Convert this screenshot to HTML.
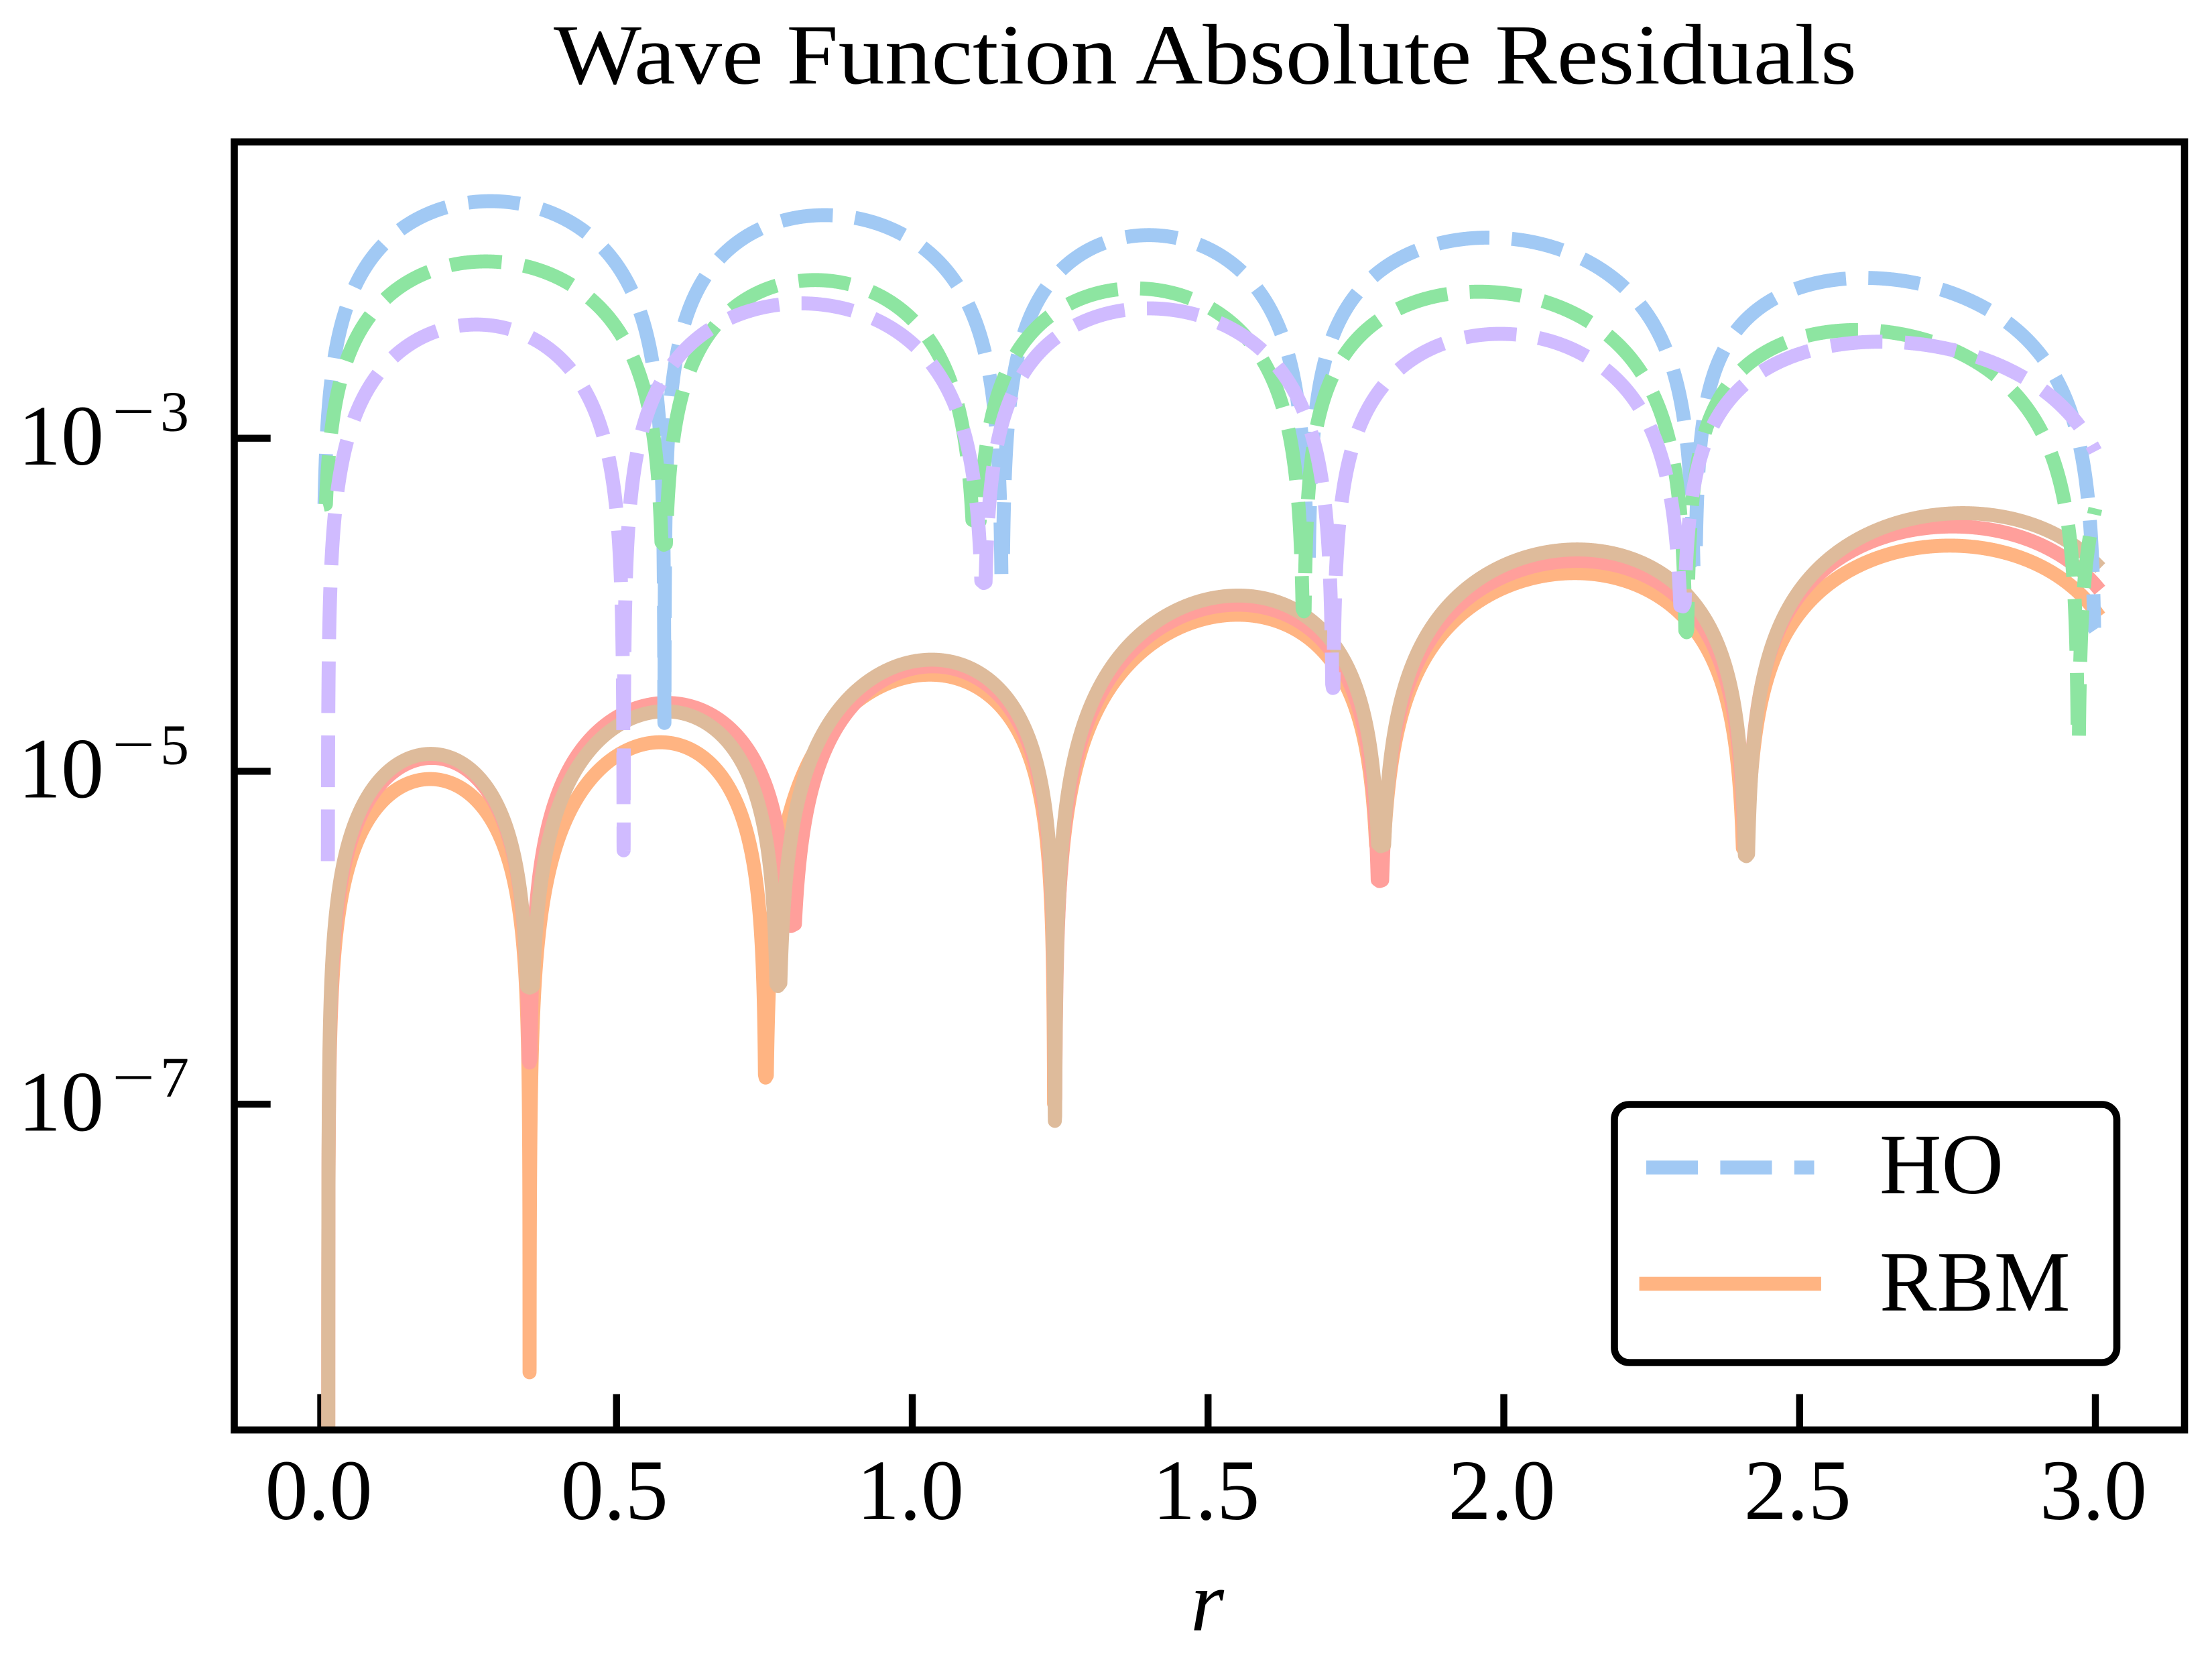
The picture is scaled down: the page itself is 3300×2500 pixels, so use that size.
<!DOCTYPE html>
<html>
<head>
<meta charset="utf-8">
<title>Wave Function Absolute Residuals</title>
<style>
html,body{margin:0;padding:0;background:#ffffff;}
svg{display:block;}
text{font-family:"Liberation Serif","DejaVu Serif",serif;fill:#000;}
</style>
</head>
<body>
<svg id="chart" xmlns="http://www.w3.org/2000/svg" width="3300" height="2500" viewBox="0 0 3300 2500">
  <rect x="0" y="0" width="3300" height="2500" fill="#ffffff"/>
  <defs>
    <clipPath id="axclip"><rect x="349.5" y="211.7" width="2909.5" height="1921.3"/></clipPath>
  </defs>

  <!-- ticks (drawn beneath the lines) -->
  <g stroke="#000" stroke-width="10.4" stroke-linecap="butt">
    <line x1="478.5" y1="2133" x2="478.5" y2="2079.5"/>
    <line x1="919.75" y1="2133" x2="919.75" y2="2079.5"/>
    <line x1="1361" y1="2133" x2="1361" y2="2079.5"/>
    <line x1="1802.25" y1="2133" x2="1802.25" y2="2079.5"/>
    <line x1="2243.5" y1="2133" x2="2243.5" y2="2079.5"/>
    <line x1="2684.75" y1="2133" x2="2684.75" y2="2079.5"/>
    <line x1="3126" y1="2133" x2="3126" y2="2079.5"/>
    <line x1="349.5" y1="653.7" x2="403.7" y2="653.7"/>
    <line x1="349.5" y1="1150.4" x2="403.7" y2="1150.4"/>
    <line x1="349.5" y1="1647.1" x2="403.7" y2="1647.1"/>
  </g>

  <!-- curves -->
  <g id="curves" clip-path="url(#axclip)" fill="none" stroke-linejoin="round"></g>

  <!-- spines -->
  <rect x="349.5" y="211.7" width="2909.5" height="1921.3" fill="none" stroke="#000" stroke-width="10.6" stroke-linejoin="miter"/>

  <!-- title -->
  <text x="826" y="124.5" font-size="128" textLength="1944" lengthAdjust="spacingAndGlyphs">Wave Function Absolute Residuals</text>

  <!-- x tick labels -->
  <g font-size="128" text-anchor="middle">
    <text x="475.5" y="2266">0.0</text>
    <text x="916.75" y="2266">0.5</text>
    <text x="1358" y="2266">1.0</text>
    <text x="1799.25" y="2266">1.5</text>
    <text x="2240.5" y="2266">2.0</text>
    <text x="2681.75" y="2266">2.5</text>
    <text x="3123" y="2266">3.0</text>
  </g>

  <!-- y tick labels -->
  <g>
    <text x="27" y="693" font-size="128">10</text>
    <text x="167" y="642.7" font-size="86" textLength="64" lengthAdjust="spacingAndGlyphs">−</text>
    <text x="239" y="642.7" font-size="86">3</text>

    <text x="27" y="1189.7" font-size="128">10</text>
    <text x="167" y="1139.4" font-size="86" textLength="64" lengthAdjust="spacingAndGlyphs">−</text>
    <text x="239" y="1139.4" font-size="86">5</text>

    <text x="27" y="1686.4" font-size="128">10</text>
    <text x="167" y="1636.1" font-size="86" textLength="64" lengthAdjust="spacingAndGlyphs">−</text>
    <text x="239" y="1636.1" font-size="86">7</text>
  </g>

  <!-- x label -->
  <text x="1801" y="2432" font-size="128" font-style="italic" text-anchor="middle">r</text>

  <!-- legend -->
  <rect x="2408.5" y="1647.5" width="749.5" height="385" rx="22" ry="22" fill="#ffffff" stroke="#000" stroke-width="10.6"/>
  <line x1="2456" y1="1741.5" x2="2706.5" y2="1741.5" stroke="#a1c9f4" stroke-width="20.83" stroke-dasharray="77.08 33.33" stroke-linecap="butt"/>
  <line x1="2456" y1="1915" x2="2706.5" y2="1915" stroke="#ffb482" stroke-width="20.83" stroke-linecap="square"/>
  <text x="2804" y="1780" font-size="128">HO</text>
  <text x="2804" y="1955" font-size="128">RBM</text>
</svg>

<script>
(function(){
  var X = function(r){ return 478.5 + 882.5*r; };
  var Y = function(L){ return 653.7 - (L+3)*248.35; };
  var RMAX = 3.0;

  function build(c){
    var z=c.z, d=c.d, A=c.a;
    var pts=[[z[0], d[0]]];
    var M=900;
    for(var k=0;k<A.length;k++){
      var a=z[k], b=z[k+1], L=b-a;
      var pr=A[k][0], pl=A[k][1];
      var tp=(pr-a)/L;
      var g=Math.log(0.5)/Math.log(tp);
      var done=false;
      for(var i=1;i<M;i++){
        var s=i/M;
        var t=0.5-0.5*Math.cos(Math.PI*s);
        var r=a+t*L;
        if(r>RMAX){
          var tt=(RMAX-a)/L;
          var uu=Math.pow(tt,g);
          var vv=pl+Math.log10(Math.max(Math.sin(Math.PI*uu),1e-12));
          pts.push([RMAX, Math.max(vv, d[k+1])]);
          done=true; break;
        }
        var u=Math.pow(t,g);
        var v=pl+Math.log10(Math.max(Math.sin(Math.PI*u),1e-12));
        var lim = t<0.5 ? d[k] : d[k+1];
        if(v<lim) continue;
        pts.push([r,v]);
      }
      if(done) break;
      if(b<=RMAX){ pts.push([b, d[k+1]]); }
      else {
        var tt2=(RMAX-a)/L, uu2=Math.pow(tt2,g);
        var vv2=pl+Math.log10(Math.max(Math.sin(Math.PI*uu2),1e-12));
        pts.push([RMAX, Math.max(vv2,d[k+1])]);
        break;
      }
      if(b>=RMAX) break;
    }
    var s2='M';
    for(var j=0;j<pts.length;j++){
      if(j>0) s2+='L';
      s2+=X(pts[j][0]).toFixed(2)+','+Y(pts[j][1]).toFixed(2);
    }
    return s2;
  }

  var curves=[
    // RBM (solid)
    {color:'#ffb482', dash:false,
     z:[0.0127,0.353,0.752,1.240,1.790,2.408,3.088],
     d:[-10,-8.61,-6.84,-7.0,-5.45,-5.48,-9],
     a:[[0.185,-5.047],[0.574,-4.826],[1.03,-4.42],[1.55,-4.06],[2.12,-3.81],[2.754,-3.645]]},
    {color:'#ff9f9b', dash:false,
     z:[0.0127,0.353,0.795,1.241,1.790,2.410,3.10],
     d:[-10,-6.75,-5.93,-7.0,-5.66,-5.48,-9],
     a:[[0.188,-4.92],[0.585,-4.59],[1.035,-4.37],[1.55,-4.00],[2.124,-3.737],[2.759,-3.53]]},
    {color:'#debb9b', dash:false,
     z:[0.0127,0.353,0.773,1.241,1.792,2.410,3.11],
     d:[-10,-6.30,-6.29,-7.10,-5.45,-5.51,-9],
     a:[[0.186,-4.896],[0.582,-4.64],[1.033,-4.33],[1.551,-3.945],[2.124,-3.668],[2.776,-3.45]]},
    // HO (dashed)
    {color:'#a1c9f4', dash:true,
     z:[0.004,0.581,1.152,1.669,2.323,3.0],
     d:[-3.4,-4.71,-3.82,-3.77,-3.78,-4.15],
     a:[[0.287,-1.576],[0.852,-1.66],[1.40,-1.78],[1.974,-1.795],[2.610,-2.037]]},
    {color:'#8de5a1', dash:true,
     z:[0.004,0.580,1.108,1.662,2.309,2.971,3.55],
     d:[-3.4,-3.64,-3.50,-4.04,-4.165,-4.82,-9],
     a:[[0.279,-1.938],[0.836,-2.05],[1.377,-2.10],[1.958,-2.12],[2.597,-2.35],[3.26,-2.62]]},
    {color:'#d0bbff', dash:true,
     z:[0.012,0.512,1.121,1.711,2.303,3.063],
     d:[-5.54,-5.475,-3.87,-4.50,-4.01,-9],
     a:[[0.263,-2.317],[0.812,-2.19],[1.40,-2.22],[1.994,-2.373],[2.637,-2.42]]}
  ];

  var g=document.getElementById('curves');
  var NS='http://www.w3.org/2000/svg';
  for(var i=0;i<curves.length;i++){
    var c=curves[i];
    var p=document.createElementNS(NS,'path');
    p.setAttribute('d', build(c));
    p.setAttribute('stroke', c.color);
    p.setAttribute('stroke-width', '20.83');
    p.setAttribute('fill', 'none');
    p.setAttribute('stroke-linejoin', 'round');
    if(c.dash){
      p.setAttribute('stroke-dasharray', '77.08 33.33');
      p.setAttribute('stroke-linecap', 'butt');
    } else {
      p.setAttribute('stroke-linecap', 'square');
    }
    g.appendChild(p);
  }
})();
</script>
</body>
</html>
